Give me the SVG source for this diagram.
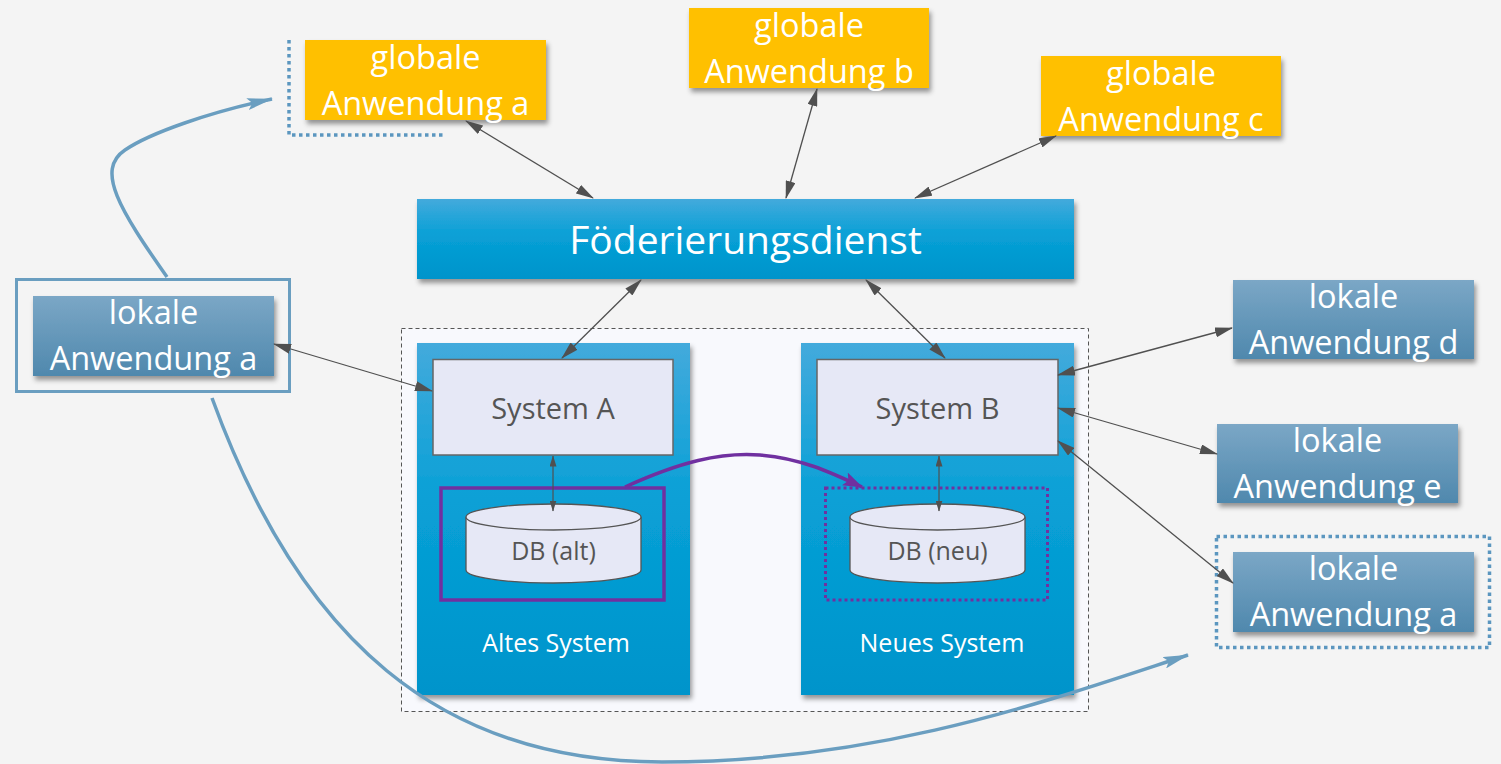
<svg xmlns="http://www.w3.org/2000/svg" width="1501" height="764" viewBox="0 0 1501 764">
<defs>
<linearGradient id="gBlue" x1="0" y1="0" x2="0" y2="1">
<stop offset="0" stop-color="#43aadc"/>
<stop offset="0.45" stop-color="#08a0d6"/>
<stop offset="1" stop-color="#0094cb"/>
</linearGradient>
<linearGradient id="gLocal" x1="0" y1="0" x2="0" y2="1">
<stop offset="0" stop-color="#7ba7c6"/>
<stop offset="1" stop-color="#4f88ad"/>
</linearGradient>
<filter id="sh" x="-10%" y="-10%" width="125%" height="135%">
<feDropShadow dx="2" dy="4" stdDeviation="2.5" flood-color="#000" flood-opacity="0.4"/>
</filter>
<marker id="ag" viewBox="0 0 18 10" refX="17" refY="5" markerWidth="18" markerHeight="10" markerUnits="userSpaceOnUse" orient="auto-start-reverse">
<path d="M0,0 L18,5 L0,10 Z" fill="#505050"/>
</marker>
<marker id="agS" viewBox="0 0 11 7" refX="10.5" refY="3.5" markerWidth="11" markerHeight="7" markerUnits="userSpaceOnUse" orient="auto-start-reverse">
<path d="M0,0 L11,3.5 L0,7 Z" fill="#505050"/>
</marker>
<marker id="ab" viewBox="0 0 26 12" refX="25" refY="6" markerWidth="26" markerHeight="12" markerUnits="userSpaceOnUse" orient="auto">
<path d="M0,0 L26,6 L0,12 L5,6 Z" fill="#6a9ec0"/>
</marker>
<marker id="ap" viewBox="0 0 20 14" refX="19" refY="7" markerWidth="20" markerHeight="14" markerUnits="userSpaceOnUse" orient="auto">
<path d="M0,0 L20,7 L0,14 L4,7 Z" fill="#7030a0"/>
</marker>
</defs>
<style>
text{font-family:"Open Sans","Noto Sans","Liberation Sans",sans-serif;text-anchor:middle}
.w{fill:#ffffff}
.app{font-size:32.5px}
.sys{font-size:29px;fill:#555555}
.db{font-size:25px;fill:#555555}
.pl{font-size:25px;fill:#ffffff}
.yel{fill:#ffc000;filter:url(#sh)}
.loc{fill:url(#gLocal);filter:url(#sh)}
.blu{fill:url(#gBlue);filter:url(#sh)}
.sbox{fill:#e6e8f6;stroke:#666666;stroke-width:1.5}
.cyl{fill:#e6e8f6;stroke:#555555;stroke-width:1.3}
.gl{stroke:#505050;stroke-width:1.3;fill:none;marker-start:url(#ag);marker-end:url(#ag)}
.gs{stroke:#505050;stroke-width:1.2;fill:none;marker-start:url(#agS);marker-end:url(#agS)}
.bd{fill:none;stroke:#5b96bf;stroke-width:3.5;stroke-dasharray:3.5 3.5}
.bc{fill:none;stroke:#6a9ec0;stroke-width:3.5;marker-end:url(#ab)}
</style>
<rect x="0" y="0" width="1501" height="764" fill="#f4f4f4"/>

<g id="container">
<rect x="401.5" y="328.5" width="687" height="383" fill="#f8f9fd" stroke="#555555" stroke-width="1" stroke-dasharray="4 3"/>
</g>

<g id="altes-system">
<rect x="417" y="343" width="273" height="352" class="blu"/>
<text x="556" y="652" class="pl">Altes System</text>
</g>
<g id="neues-system">
<rect x="801" y="343" width="273" height="352" class="blu"/>
<text x="942" y="652" class="pl">Neues System</text>
</g>

<g id="foederierungsdienst">
<rect x="417" y="199" width="657" height="80" class="blu"/>
<text x="745.5" y="254" class="w" style="font-size:39px">Föderierungsdienst</text>
</g>

<g id="system-a">
<rect x="433" y="359.5" width="240" height="95.5" class="sbox"/>
<text x="553" y="419" class="sys">System A</text>
</g>
<g id="system-b">
<rect x="817" y="359.5" width="241" height="95.5" class="sbox"/>
<text x="937.5" y="419" class="sys">System B</text>
</g>

<g id="db-alt">
<rect x="441" y="488" width="223" height="112" fill="none" stroke="#7030a0" stroke-width="3.5"/>
<path d="M466,517 L466,570 A87.5,13 0 0 0 641,570 L641,517 A87.5,13 0 0 0 466,517 Z" class="cyl"/>
<path d="M466,517 A87.5,13 0 0 0 641,517" class="cyl" fill="none"/>
<text x="553.5" y="560" class="db">DB (alt)</text>
</g>
<g id="db-neu">
<rect x="825.5" y="488" width="222" height="112" fill="none" stroke="#7030a0" stroke-width="3" stroke-dasharray="3 3"/>
<path d="M850,517 L850,570 A87.5,13 0 0 0 1025,570 L1025,517 A87.5,13 0 0 0 850,517 Z" class="cyl"/>
<path d="M850,517 A87.5,13 0 0 0 1025,517" class="cyl" fill="none"/>
<text x="937.5" y="560" class="db">DB (neu)</text>
</g>

<g id="globale-a">
<polyline points="289,40 289,135 445,135" class="bd"/>
<rect x="305" y="40" width="241" height="80" class="yel"/>
<text x="425.5" y="69" class="w app">globale</text>
<text x="425.5" y="115" class="w app">Anwendung a</text>
</g>
<g id="globale-b">
<rect x="689" y="8" width="240" height="80" class="yel"/>
<text x="809" y="37" class="w app">globale</text>
<text x="809" y="83" class="w app">Anwendung b</text>
</g>
<g id="globale-c">
<rect x="1041" y="56" width="240" height="80" class="yel"/>
<text x="1161" y="85" class="w app">globale</text>
<text x="1161" y="131" class="w app">Anwendung c</text>
</g>

<g id="lokale-a-links">
<rect x="16.5" y="279.5" width="273" height="112" fill="none" stroke="#6a9ec0" stroke-width="3"/>
<rect x="33" y="296" width="241" height="80" class="loc"/>
<text x="153.5" y="324" class="w app">lokale</text>
<text x="153.5" y="370" class="w app">Anwendung a</text>
</g>
<g id="lokale-d">
<rect x="1233" y="280" width="241" height="79" class="loc"/>
<text x="1353.5" y="308" class="w app">lokale</text>
<text x="1353.5" y="354" class="w app">Anwendung d</text>
</g>
<g id="lokale-e">
<rect x="1217" y="424" width="241" height="79" class="loc"/>
<text x="1337.5" y="452" class="w app">lokale</text>
<text x="1337.5" y="498" class="w app">Anwendung e</text>
</g>
<g id="lokale-a-rechts">
<rect x="1216.5" y="536.5" width="273" height="111" class="bd"/>
<rect x="1233" y="552" width="241" height="80" class="loc"/>
<text x="1353.5" y="580" class="w app">lokale</text>
<text x="1353.5" y="626" class="w app">Anwendung a</text>
</g>

<g id="connectors">
<line x1="466" y1="121" x2="593" y2="198" class="gl"/>
<line x1="817" y1="89" x2="786" y2="198" class="gl"/>
<line x1="1056" y1="136" x2="915" y2="198" class="gl"/>
<line x1="641" y1="280" x2="562" y2="358" class="gl"/>
<line x1="866" y1="280" x2="945" y2="358" class="gl"/>
<line x1="274" y1="344" x2="432" y2="391" class="gl"/>
<line x1="1058" y1="375" x2="1232" y2="328" class="gl"/>
<line x1="1058" y1="408" x2="1217" y2="454" class="gl"/>
<line x1="1058" y1="441" x2="1233" y2="583" class="gl"/>
<line x1="553" y1="456" x2="553" y2="511" class="gs"/>
<line x1="939" y1="456" x2="939" y2="511" class="gs"/>
<path d="M625,487 C680,462 720,452 760,455 C800,458 830,472 862,487" fill="none" stroke="#7030a0" stroke-width="3.5" marker-end="url(#ap)"/>
<path d="M167,277 C120,210 95,170 125,150 C150,133 210,112 272,99" class="bc"/>
<path d="M212,398 C300,640 440,762 662,762 C880,762 1050,700 1188,655" class="bc"/>
</g>
</svg>
